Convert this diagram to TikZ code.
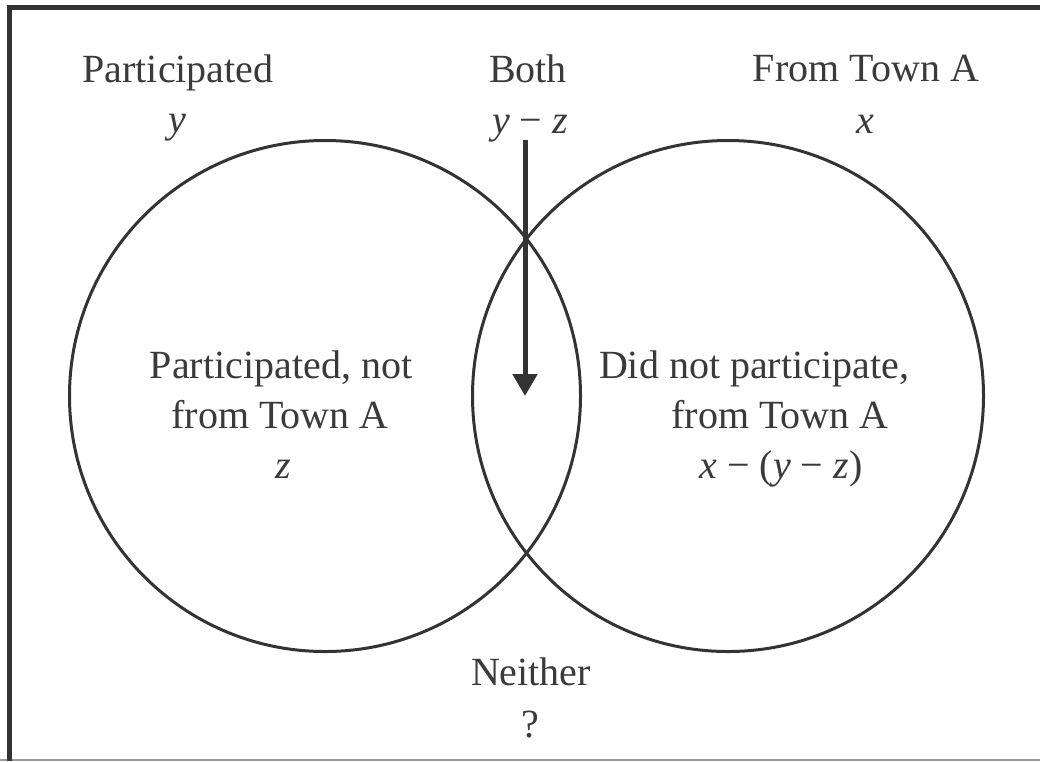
\documentclass[tikz,border=0pt]{standalone}
\usepackage{fontspec}
\setmainfont{Liberation Serif}
\usetikzlibrary{arrows.meta}
\definecolor{ink}{HTML}{333333}
\definecolor{txt}{HTML}{3A3A3A}
\definecolor{edge}{HTML}{9A9A9A}
\begin{document}
\begin{tikzpicture}[x=1pt,y=-1pt,
  lbl/.style={anchor=base,inner sep=0pt,text=txt,font=\fontsize{40}{50}\selectfont},
  ring/.style={circle,draw=ink,line width=3pt,inner sep=0pt,minimum size=511pt},
  frameline/.style={draw=ink,line width=5pt}]
\useasboundingbox (0,0) rectangle (1040,761);
% frame
\coordinate (ftl) at (9.5,7.5);
\coordinate (ftr) at (1040,7.5);
\coordinate (fbl) at (9.5,761);
\coordinate (bl) at (0,759.5);
\coordinate (br) at (1040,759.5);
\draw[draw=edge,line width=2pt] (bl) -- (br);
\draw[frameline] (ftr) -- (ftl) -- (fbl);
% circles
\node[ring] (L) at (325,396) {};
\node[ring] (R) at (728,396) {};
% arrow
\coordinate (a1) at (525,140);
\coordinate (a2) at (525,396);
\draw[draw=ink,fill=ink,line width=5pt,-{Triangle[width=24pt,length=22pt]}] (a1) -- (a2);
% labels
\node[lbl] (t1) at (178,82) {Participated};
\node[lbl] (t1v) at (177,132) {\itshape y};
\node[lbl] (t2) at (528,82) {Both};
\node[lbl] (t2v) at (530,133) {{\itshape y} − {\itshape z}};
\node[lbl] (t3) at (866,81) {From Town A};
\node[lbl] (t3v) at (865,133) {\itshape x};
\node[lbl] (l1) at (281,378) {Participated, not};
\node[lbl] (l2) at (280,428) {from Town A};
\node[lbl] (l3) at (283,478) {\itshape z};
\node[lbl] (r1) at (754,378) {Did not participate,};
\node[lbl] (r2) at (780,428) {from Town A};
\node[lbl] (r3) at (781,478) {{\itshape x} − ({\itshape y} − {\itshape z})};
\node[lbl] (n1) at (531,685) {Neither};
\node[lbl] (n2) at (530,737) {?};
\end{tikzpicture}
\end{document}
